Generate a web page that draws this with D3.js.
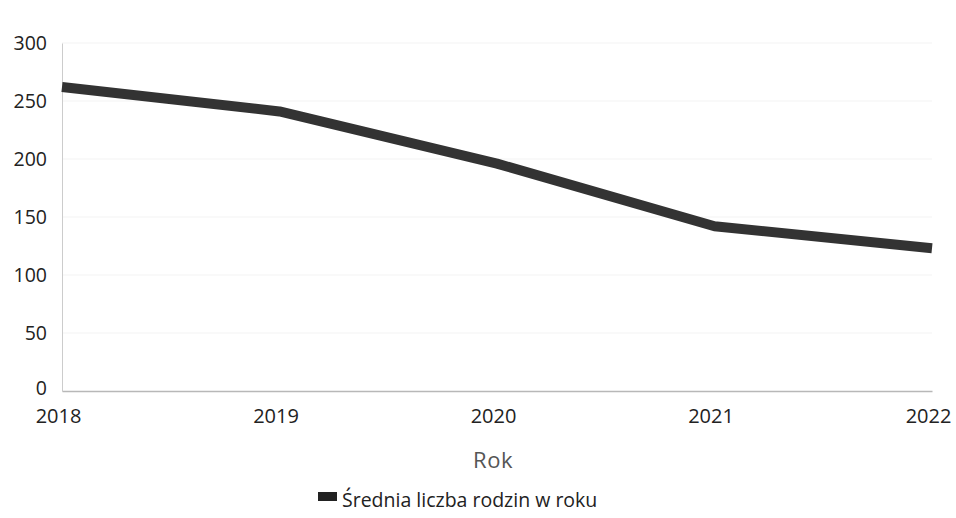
<!DOCTYPE html>
<html><head><meta charset="utf-8">
<script src="https://cdn.jsdelivr.net/npm/d3@7"></script>
<style>body{margin:0;background:#fff}svg{display:block}</style>
</head><body>
<svg id="c" width="956" height="518"></svg>
<script>
const years = ["2018","2019","2020","2021","2022"];
const values = [262, 241, 196, 142, 123];
const yTicks = [0,50,100,150,200,250,300];
const seriesName = "Średnia liczba rodzin w roku";
const axisTitle = "Rok";

const svg = d3.select("#c");
const W = 956, H = 518;
const m = {l:62, r:24, t:43, b:127};
const x = d3.scalePoint().domain(years).range([m.l, W - m.r]);
const y = d3.scaleLinear().domain([0,300]).range([H - m.b, m.t]);
const font = "'Open Sans', Lato, sans-serif";

// gridlines
svg.append("g").selectAll("line").data(yTicks.filter(d=>d>0)).join("line")
  .attr("x1", m.l).attr("x2", W - m.r)
  .attr("y1", d=>y(d)).attr("y2", d=>y(d))
  .attr("stroke", "#f3f3f3").attr("stroke-width", 1);

// y axis
const ya = svg.append("g").attr("transform", `translate(${m.l},0)`)
  .call(d3.axisLeft(y).tickValues(yTicks).tickSize(0).tickPadding(15));
ya.select(".domain").attr("stroke", "#cccccc");
ya.selectAll("text").attr("font-family", font).attr("font-size", 19.5).attr("fill", "#222");
ya.selectAll(".tick").filter(d=>d===0).select("text").attr("dy", "0.2em");

// x axis
const xa = svg.append("g").attr("transform", `translate(0,${y(0)})`)
  .call(d3.axisBottom(x).tickSize(0).tickPadding(18));
xa.select(".domain").attr("stroke", "#b8b8b8").attr("stroke-width", 1.5);
xa.selectAll("text").attr("font-family", font).attr("font-size", 20).attr("fill", "#222")
  .attr("dx", -4);

// line
const line = d3.line().x((d,i)=>x(years[i])).y(d=>y(d));
svg.append("path").datum(values).attr("d", line)
  .attr("fill", "none").attr("stroke", "#333").attr("stroke-width", 10)
  .attr("stroke-linejoin", "round");

// axis title
svg.append("text").attr("x", 493).attr("y", 468)
  .attr("text-anchor", "middle").attr("font-family", font).attr("font-size", 22)
  .attr("letter-spacing", 0.5).attr("fill", "#555").text(axisTitle);

// legend
const lg = svg.append("g");
lg.append("rect").attr("x", 318).attr("y", 492).attr("width", 19).attr("height", 9).attr("fill", "#222");
lg.append("text").attr("x", 342).attr("y", 507).attr("font-family", font).attr("font-size", 19.5)
  .attr("fill", "#222").text(seriesName);
</script>
</body></html>
